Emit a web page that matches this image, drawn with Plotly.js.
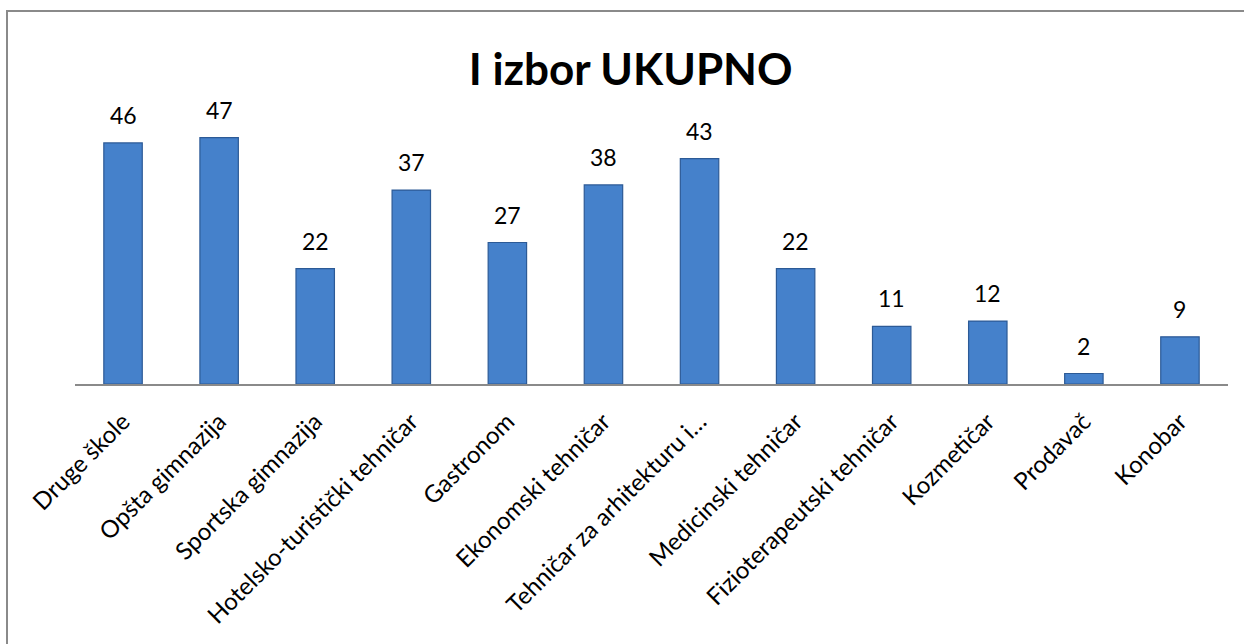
<!DOCTYPE html>
<html>
<head>
<meta charset="utf-8">
<script src="https://cdn.plot.ly/plotly-3.0.1.min.js"></script>
<style>
  html, body { margin: 0; padding: 0; background: #fff; }
  #wrap { position: relative; width: 1244px; height: 644px; overflow: hidden; }
  #frame { position: absolute; left: 6px; top: 10px; width: 1300px; height: 700px;
           border-left: 2px solid #8a8a8a; border-top: 2px solid #8a8a8a; box-sizing: border-box; }
  #chart { position: absolute; left: 0; top: 0; width: 1244px; height: 644px; }
</style>
</head>
<body>
<div id="wrap">
  <div id="frame"></div>
  <div id="chart"></div>
</div>
<script>
const categories = [
  "Druge škole",
  "Opšta gimnazija",
  "Sportska gimnazija",
  "Hotelsko-turistički tehničar",
  "Gastronom",
  "Ekonomski tehničar",
  "Tehničar za arhitekturu i…",
  "Medicinski tehničar",
  "Fizioterapeutski tehničar",
  "Kozmetičar",
  "Prodavač",
  "Konobar"
];
const values = [46, 47, 22, 37, 27, 38, 43, 22, 11, 12, 2, 9];
const chartTitle = "I izbor UKUPNO";

const FONT = "Lato, 'Open Sans', sans-serif";

const trace = {
  type: "bar",
  x: categories,
  y: values,
  marker: { color: "#4581cb", line: { color: "#2c5a96", width: 1.2 } },
  hoverinfo: "x+y"
};

const annotations = categories.map((c, i) => ({
  x: c, y: values[i], xref: "x", yref: "y",
  text: String(values[i]), showarrow: false,
  yanchor: "bottom", yshift: 12,
  font: { family: FONT, size: 23, color: "#000" }
}));

const layout = {
  width: 1244, height: 644,
  paper_bgcolor: "rgba(0,0,0,0)",
  plot_bgcolor: "rgba(0,0,0,0)",
  margin: { l: 75, r: 16, t: 122, b: 260 },
  bargap: 0.6,
  showlegend: false,
  title: {
    text: "<b>" + chartTitle + "</b>",
    x: 0.507, xref: "container", xanchor: "center",
    y: 1 - 70/644, yref: "container", yanchor: "middle",
    font: { family: FONT, size: 44, color: "#000" }
  },
  xaxis: {
    type: "category",
    tickangle: -45,
    tickfont: { family: FONT, size: 24, color: "#000" },
    ticklabelstandoff: 12,
    showline: true, linecolor: "#8a8a8a", linewidth: 2,
    ticks: "", showgrid: false, zeroline: false,
    automargin: false
  },
  yaxis: {
    range: [0, 50],
    visible: false, showgrid: false, zeroline: false
  },
  annotations: annotations
};

Plotly.newPlot("chart", [trace], layout, { displayModeBar: false, staticPlot: true });
</script>
</body>
</html>
